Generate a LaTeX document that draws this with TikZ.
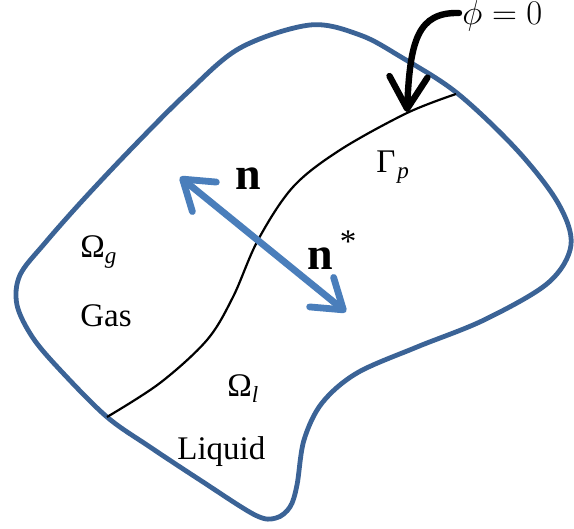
\documentclass[tikz,border=0pt]{standalone}
\usepackage{fontspec}
\setmainfont{Liberation Serif}
\usepackage{tikz}
\usetikzlibrary{arrows.meta}
\definecolor{rim}{HTML}{3B6396}
\definecolor{nblue}{HTML}{4A7EBB}

\begin{document}
\begin{tikzpicture}[x=0.5pt,y=-0.5pt,font=\fontsize{16.5}{18}\selectfont,
  rimline/.style={draw=rim,line width=2.4pt,line join=round},
  front/.style={draw=black,line width=1.1pt},
  nrm/.style={draw=nblue,line width=3.4pt,{Straight Barb[length=14pt,width=19pt,round]}-{Straight Barb[length=14pt,width=19pt,round]}},
  pointer/.style={draw=black,line width=3.2pt,line cap=round,-{Straight Barb[length=16pt,width=19pt,round]}},
  lbl/.style={anchor=base west,inner sep=0pt},
  vec/.style={lbl,font=\fontsize{23}{24}\selectfont\bfseries}]
\useasboundingbox (0,0) rectangle (574,529);

% domain boundary
\draw[rimline] plot[smooth cycle,tension=0.55] coordinates {
  (310,25) (360,35) (401,57) (457,93) (517,150) (558,203) (571,245)
  (548,283) (484,320) (417,347) (357,373) (322,403) (304,440) (297,485)
  (290,507) (276,518) (255,515) (200,480) (150,447) (107,417) (62,372)
  (33,338) (17,305) (20,275) (45,243) (83,200) (133,147) (187,93) (240,48)};

% interface Gamma_p
\coordinate (ifl) at (107,417);
\coordinate (ifr) at (456,94);
\draw[front] plot[smooth,tension=0.55] coordinates {
  (107,417) (160,383) (207,340) (233,297) (258,240) (293,187) (340,150)
  (407,113) (456,94)};

% normals
\coordinate (nup) at (180,177);
\coordinate (ndn) at (346,312);
\draw[nrm] (nup) -- (ndn);

% level set pointer
\coordinate (phiend) at (459,13);
\coordinate (hit) at (407,112);
\draw[pointer] (phiend) .. controls (418,12) and (410,40) .. (hit);

\node[lbl] (phi) at (462,25) {$\phi = 0$};
\node[lbl] (gam) at (376,173) {Γ\hspace{1pt}\textsubscript{\textit{p}}};
\node[vec] (n) at (235,190) {n};
\node[vec] (nstar) at (307,270) {n\hspace{3.5pt}\raisebox{8.5pt}{\normalfont\fontsize{16.5}{18}\selectfont *}};
\node[lbl] (omg) at (80,258) {Ω\textsubscript{\textit{g}}};
\node[lbl] (gas) at (80,327) {Gas};
\node[lbl] (oml) at (227,397) {Ω\textsubscript{\textit{l}}};
\node[lbl] (liq) at (177,460) {Liquid};
\end{tikzpicture}
\end{document}
